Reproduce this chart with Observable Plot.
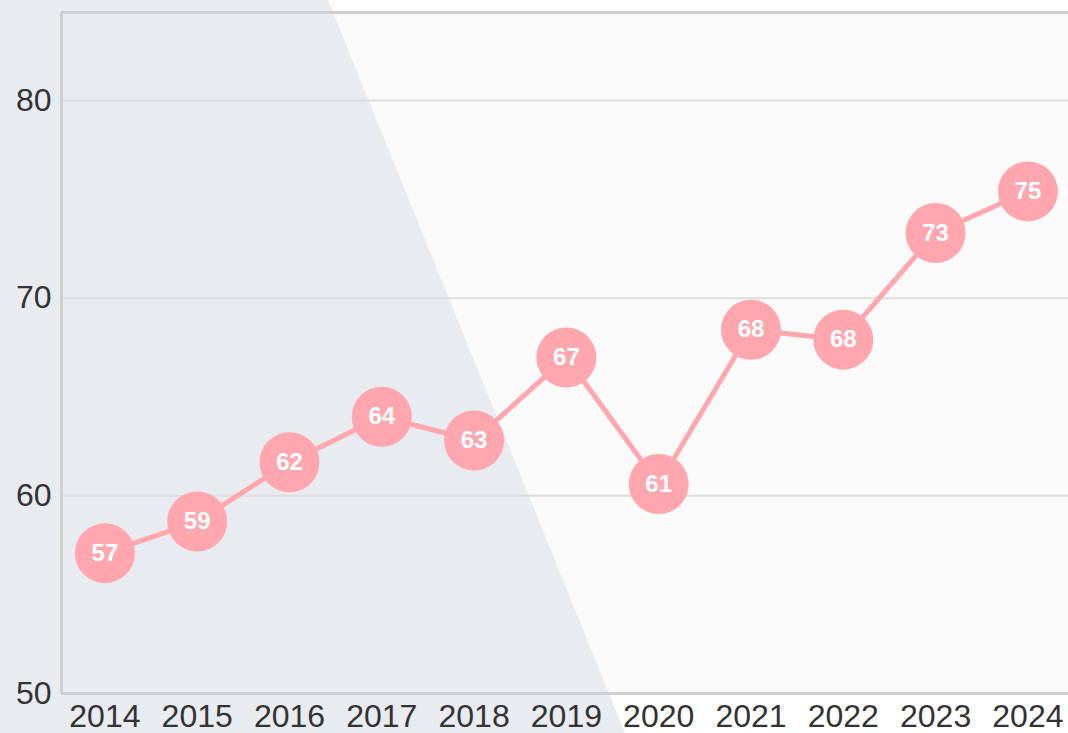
<!DOCTYPE html>
<html>
<head>
<meta charset="utf-8">
<script src="https://cdn.jsdelivr.net/npm/d3@7"></script>
<script src="https://cdn.jsdelivr.net/npm/@observablehq/plot@0.6"></script>
<style>
  html, body { margin: 0; padding: 0; }
  body { width: 1068px; height: 733px; position: relative; overflow: hidden; background: #ffffff; font-family: "Liberation Sans", Arial, sans-serif; }
  #under, #chart { position: absolute; left: 0; top: 0; }
  #bg { position: absolute; left: 0; top: 0; width: 1068px; height: 733px; background: #e8ebf0;
        clip-path: polygon(0 0, 328px 0, 625px 733px, 0 733px); }
</style>
</head>
<body>
<div id="under"></div>
<div id="bg"></div>
<div id="chart"></div>
<script>
const years = [2014, 2015, 2016, 2017, 2018, 2019, 2020, 2021, 2022, 2023, 2024];
const values = [57.1, 58.7, 61.7, 64.0, 62.8, 67.0, 60.6, 68.4, 67.9, 73.3, 75.4];
const yTicks = [50, 60, 70, 80];
const gridTicks = [60, 70, 80];
const xDomain = [2013.53, 2024.44];
const yDomain = [50, 84.45];

const data = years.map((year, i) => ({year, value: values[i]}));

const lineColor = "#ffa6ae";
const borderColor = "#cfcfcf";

const common = {
  width: 1068,
  height: 733,
  marginLeft: 61,
  marginRight: 0,
  marginTop: 12,
  marginBottom: 40,
  style: {background: "transparent", fontFamily: "'Liberation Sans', Arial, sans-serif", fontSize: "32px", color: "#333"},
  x: {domain: xDomain, ticks: years, tickFormat: d => String(d), tickSize: 0, tickPadding: 11, label: null},
  y: {domain: yDomain, ticks: yTicks, tickSize: 0, tickPadding: 10, label: null}
};

// plot-area fill (sits beneath the diagonal band)
const under = Plot.plot({
  ...common,
  x: {...common.x, axis: null},
  y: {...common.y, axis: null},
  marks: [Plot.frame({fill: "#fafafa", stroke: null})]
});
document.getElementById("under").appendChild(under);

const chart = Plot.plot({
  ...common,
  marks: [
    Plot.gridY(gridTicks, {stroke: "#dedede", strokeOpacity: 1, strokeWidth: 2}),
    Plot.ruleY([yDomain[1]], {stroke: borderColor, strokeWidth: 3}),
    Plot.ruleY([yDomain[0]], {stroke: borderColor, strokeWidth: 3}),
    Plot.ruleX([xDomain[0]], {stroke: borderColor, strokeWidth: 3}),
    Plot.line(data, {x: "year", y: "value", stroke: lineColor, strokeWidth: 5}),
    Plot.dot(data, {x: "year", y: "value", r: 30, fill: lineColor, stroke: null}),
    Plot.text(data, {x: "year", y: "value", text: d => String(Math.round(d.value)), fill: "white", fontWeight: "bold", fontSize: 24})
  ]
});
document.getElementById("chart").appendChild(chart);
</script>
</body>
</html>
